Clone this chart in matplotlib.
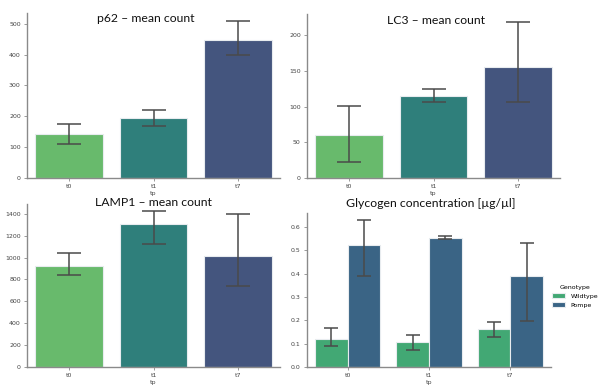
import numpy as np
import matplotlib
matplotlib.use("Agg")
import matplotlib.pyplot as plt

# Data
tp = ["t0", "t1", "t7"]

p62_mean = [142, 194, 447]
p62_lo = [110, 167, 398]
p62_hi = [175, 220, 510]

lc3_mean = [60, 115, 155]
lc3_lo = [22, 107, 107]
lc3_hi = [101, 125, 219]

lamp1_mean = [925, 1304, 1017]
lamp1_lo = [845, 1124, 738]
lamp1_hi = [1038, 1423, 1400]

genotypes = ["Wildtype", "Pompe"]
gly_wt_mean = [0.122, 0.107, 0.163]
gly_wt_lo = [0.092, 0.075, 0.127]
gly_wt_hi = [0.166, 0.137, 0.192]
gly_pompe_mean = [0.524, 0.554, 0.391]
gly_pompe_lo = [0.391, 0.550, 0.197]
gly_pompe_hi = [0.631, 0.561, 0.531]

tp_colors = ["#68ba6c", "#2f7f7b", "#44557e"]
geno_colors = ["#42a874", "#3a6485"]

W, H = 604, 385
fig = plt.figure(figsize=(W / 100, H / 100), dpi=100)


def px_axes(x0, x1, y0, y1):
    # axes from pixel box (y measured from top)
    return fig.add_axes([x0 / W, 1 - y1 / H, (x1 - x0) / W, (y1 - y0) / H])


def style(ax):
    for s in ["top", "right"]:
        ax.spines[s].set_visible(False)
    for s in ["left", "bottom"]:
        ax.spines[s].set_color("#8a8a8a")
        ax.spines[s].set_linewidth(1.0)
    ax.tick_params(labelsize=4.5, length=2, width=0.6, color="#8a8a8a",
                   labelcolor="#444444", pad=2.5)
    ax.set_xlabel("tp", fontsize=4.5, color="#444444", labelpad=1)


def err_kw(cap):
    return dict(ecolor="#4a4a4a", elinewidth=1.1, capsize=cap, capthick=1.1)


def single(ax, mean, lo, hi, ylim, yticks):
    x = np.arange(len(tp))
    yerr = [np.array(mean) - np.array(lo), np.array(hi) - np.array(mean)]
    ax.bar(x, mean, width=0.8, color=tp_colors, edgecolor="#e8ecef",
           linewidth=0.8, yerr=yerr, error_kw=err_kw(8.3))
    ax.set_xticks(x)
    ax.set_xticklabels(tp)
    ax.set_xlim(-0.5, 2.5)
    ax.set_ylim(*ylim)
    ax.set_yticks(yticks)
    style(ax)


ax1 = px_axes(27, 280, 13, 178)
single(ax1, p62_mean, p62_lo, p62_hi, (0, 535), range(0, 501, 100))

ax2 = px_axes(307, 560, 14, 178)
single(ax2, lc3_mean, lc3_lo, lc3_hi, (0, 230), range(0, 201, 50))

ax3 = px_axes(27, 280, 204, 367)
single(ax3, lamp1_mean, lamp1_lo, lamp1_hi, (0, 1490), range(0, 1401, 200))

ax4 = px_axes(307, 551, 213, 367)
x = np.arange(len(tp))
groups = [(gly_wt_mean, gly_wt_lo, gly_wt_hi),
          (gly_pompe_mean, gly_pompe_lo, gly_pompe_hi)]
for i, (m, lo, hi) in enumerate(groups):
    yerr = [np.array(m) - np.array(lo), np.array(hi) - np.array(m)]
    ax4.bar(x - 0.2 + 0.4 * i, m, width=0.4, color=geno_colors[i],
            edgecolor="#e8ecef", linewidth=0.8, label=genotypes[i],
            yerr=yerr, error_kw=err_kw(5))
ax4.set_xticks(x)
ax4.set_xticklabels(tp)
ax4.set_xlim(-0.5, 2.5)
ax4.set_ylim(0, 0.66)
ax4.set_yticks(np.arange(0, 0.61, 0.1))
ax4.set_yticklabels(["%.1f" % v for v in np.arange(0, 0.61, 0.1)])
style(ax4)
leg = ax4.legend(title="Genotype", loc="center left", bbox_to_anchor=(0.98, 0.46),
                 frameon=False, fontsize=4.5, title_fontsize=4.5,
                 handlelength=2.2, handleheight=0.9, labelspacing=0.5)

# panel titles (pasted-on style titles)
titles = [("p62 – mean count", 146, 19),
          ("LC3 – mean count", 436, 21),
          ("LAMP1 – mean count", 153, 203),
          ("Glycogen concentration [µg/µl]", 431, 204)]
for t, xp, yp in titles:
    fig.text(xp / W, 1 - yp / H, t, ha="center", va="center", fontsize=8.8,
             family=["Lato", "DejaVu Sans"], color="#111111")

fig.savefig("out.png", dpi=100)
